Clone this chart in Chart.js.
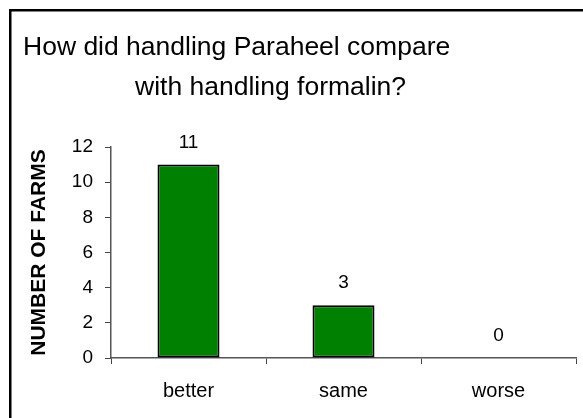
<!DOCTYPE html>
<html>
<head>
<meta charset="utf-8">
<script src="https://cdn.jsdelivr.net/npm/chart.js@4/dist/chart.umd.min.js"></script>
<style>
  body { margin: 0; background: #fff; }
  canvas { display: block; }
</style>
</head>
<body>
<canvas id="mycanvas" width="583" height="418"></canvas>
<script>
var categories = ['better', 'same', 'worse'];
var farms = [11, 3, 0];
var yTicks = [0, 2, 4, 6, 8, 10, 12];
var titleLines = ['How did handling Paraheel compare', 'with handling formalin?'];
var yTitle = 'NUMBER OF FARMS';

var FONT = 'Arial, "Liberation Sans", sans-serif';

// white page, frame and the two title lines
var framePlugin = {
	id: 'frame',
	beforeDraw: function(chart) {
		var c = chart.ctx;
		c.save();
		c.fillStyle = '#fff';
		c.fillRect(0, 0, chart.width, chart.height);
		c.fillStyle = '#000';
		c.fillRect(9, 9, chart.width, 2.5);
		c.fillRect(9, 9, 2.5, chart.height);
		c.restore();
	},
	afterDraw: function(chart) {
		var c = chart.ctx;
		c.save();
		c.fillStyle = '#000';
		c.font = '26.5px ' + FONT;
		c.textBaseline = 'alphabetic';
		c.textAlign = 'left';
		c.fillText(titleLines[0], 23, 55);
		c.fillText(titleLines[1], 135, 95);
		c.restore();
	}
};

// value above each bar
var valuePlugin = {
	id: 'values',
	afterDatasetsDraw: function(chart) {
		var c = chart.ctx;
		var meta = chart.getDatasetMeta(0);
		c.save();
		c.fillStyle = '#000';
		c.font = '19px ' + FONT;
		c.textAlign = 'center';
		c.textBaseline = 'alphabetic';
		meta.data.forEach(function(bar, i) {
			c.fillText(String(farms[i]), bar.x, bar.y - 17);
		});
		c.restore();
	}
};

var ctx = document.getElementById('mycanvas');

var barGraph = new Chart(ctx, {
	type: 'bar',
	data: {
		labels: categories,
		datasets: [{
			data: farms,
			backgroundColor: '#008000',
			borderColor: '#000',
			borderWidth: 2,
			borderSkipped: false,
			barPercentage: 0.4,
			categoryPercentage: 1
		}]
	},
	options: {
		responsive: false,
		animation: false,
		layout: { padding: { top: 147, right: 7, left: 0, bottom: 0 } },
		plugins: {
			legend: { display: false },
			tooltip: { enabled: false }
		},
		scales: {
			x: {
				grid: { display: true, drawOnChartArea: false, tickLength: 6, color: '#444', offset: true },
				border: { color: '#555', width: 1.5 },
				ticks: { color: '#000', font: { size: 20, family: FONT }, padding: 15 },
				afterFit: function(scale) { scale.height = 60; }
			},
			y: {
				min: 0,
				max: 12,
				afterBuildTicks: function(scale) {
					scale.ticks = yTicks.map(function(v) { return { value: v }; });
				},
				grid: { display: true, drawOnChartArea: false, tickLength: 6, color: '#444' },
				border: { color: '#555', width: 1.5 },
				ticks: { color: '#000', font: { size: 19, family: FONT }, padding: 12 },
				title: {
					display: true,
					text: yTitle,
					color: '#000',
					font: { size: 21, weight: 'bold', family: FONT },
					padding: { top: 27, bottom: 0 }
				},
				afterFit: function(scale) { scale.width = 111; }
			}
		}
	},
	plugins: [framePlugin, valuePlugin]
});
</script>
</body>
</html>
